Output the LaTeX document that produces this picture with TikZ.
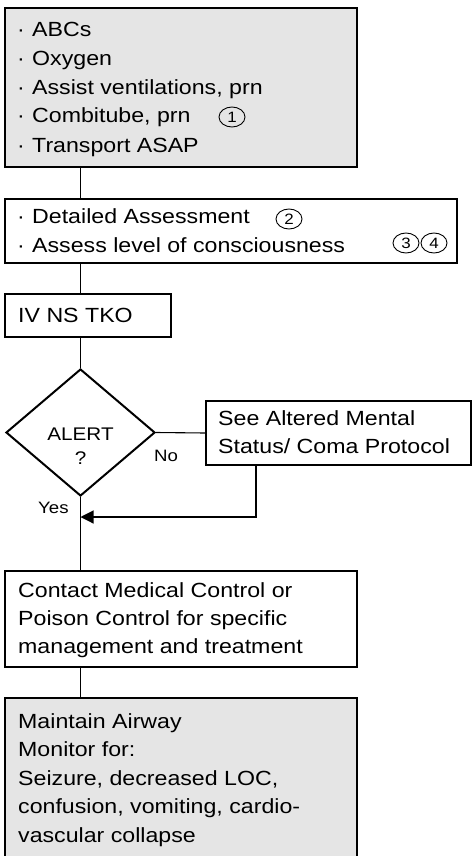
\documentclass[tikz,border=0pt]{standalone}
\usepackage{fontspec}
\setmainfont{Liberation Sans}[FakeStretch=1.13]
\usetikzlibrary{shapes.geometric,arrows.meta}
\definecolor{boxgray}{HTML}{E5E5E5}
\begin{document}
\begin{tikzpicture}[x=1pt,y=-1pt,
  thickbox/.style={draw, line width=2pt, fill=boxgray, inner sep=0pt, rectangle},
  thinbox/.style={draw, line width=1.1pt, fill=white, inner sep=0pt, rectangle},
  txt/.style={anchor=base west, inner sep=0pt, font=\fontsize{20.5}{24}\selectfont},
  ctxt/.style={anchor=base, inner sep=0pt, font=\fontsize{18.3}{22}\selectfont},
  lbl/.style={anchor=base west, inner sep=0pt, font=\fontsize{16.5}{19}\selectfont},
  num/.style={draw, ellipse, line width=0.9pt, minimum width=26pt, minimum height=20pt, inner sep=0pt, font=\fontsize{15}{17}\selectfont},
  conn/.style={line width=1.1pt}
]
\useasboundingbox (0,0) rectangle (472,856);
\clip (0,0) rectangle (472,856);
% boxes
\node[thickbox, minimum width=352pt, minimum height=159pt] (b1) at (181,87.5) {};
\node[thinbox, minimum width=452pt, minimum height=64pt] (b2) at (231,231) {};
\node[thinbox, minimum width=166pt, minimum height=43pt] (b3) at (88,315.5) {};
\node[draw, diamond, line width=2pt, fill=white, minimum width=149pt, minimum height=127pt, inner sep=0pt] (d) at (80.5,432.5) {};
\node[thinbox, minimum width=265pt, minimum height=64pt] (see) at (338.5,433) {};
\node[thinbox, minimum width=352pt, minimum height=96pt] (b5) at (181,619) {};
\node[thickbox, minimum width=352pt, minimum height=180pt] (b6) at (181,788) {};
% texts box 1
\node[txt] (t11) at (17,37) {\makebox[15pt][l]{·}ABCs};
\node[txt] (t12) at (17,66) {\makebox[15pt][l]{·}Oxygen};
\node[txt] (t13) at (17,94.5) {\makebox[15pt][l]{·}Assist ventilations, prn};
\node[txt] (t14) at (17,123) {\makebox[15pt][l]{·}Combitube, prn};
\node[txt] (t15) at (17,152) {\makebox[15pt][l]{·}Transport ASAP};
\node[num] (c1) at (232,117) {1};
% box 2
\node[txt] (t21) at (17,223) {\makebox[15pt][l]{·}Detailed Assessment};
\node[txt] (t22) at (17,252) {\makebox[15pt][l]{·}Assess level of consciousness};
\node[num] (c2) at (289,219) {2};
\node[num] (c3) at (406,243) {3};
\node[num] (c4) at (434,243) {4};
% box 3
\node[txt] (t31) at (18,322) {IV NS TKO};
% diamond text
\node[ctxt] (dt1) at (80.5,440) {ALERT};
\node[ctxt] (dt2) at (80.5,464) {?};
% see box
\node[txt] (ts1) at (218,425) {See Altered Mental};
\node[txt] (ts2) at (218,453) {Status/ Coma Protocol};
% labels
\node[lbl] (no) at (154,461) {No};
\node[lbl] (yes) at (38,513) {Yes};
% box 5
\node[txt] (t51) at (18,597) {Contact Medical Control or};
\node[txt] (t52) at (18,625) {Poison Control for specific};
\node[txt] (t53) at (18,653) {management and treatment};
% box 6
\node[txt] (t61) at (18,728) {Maintain Airway};
\node[txt] (t62) at (18,756.5) {Monitor for:};
\node[txt] (t63) at (18,785) {Seizure, decreased LOC,};
\node[txt] (t64) at (18,813.5) {confusion, vomiting, cardio-};
\node[txt] (t65) at (18,842) {vascular collapse};
% connectors
\draw[conn] (b1.south -| d.north) -- (b2.north -| d.north);
\draw[conn] (b2.south -| d.north) -- (b3.north -| d.north);
\draw[conn] (b3.south -| d.north) -- (d.north);
\draw[conn] (d.east) -- (see.west);
\draw[conn] (d.south) -- (b5.north -| d.south);
\draw[conn] (b5.south -| d.north) -- (b6.north -| d.north);
\coordinate (k) at (256,517);
\draw[conn, -{Triangle[length=13pt,width=13pt]}] (see.south -| k) -- (k) -- (k -| d.south);
\end{tikzpicture}
\end{document}
